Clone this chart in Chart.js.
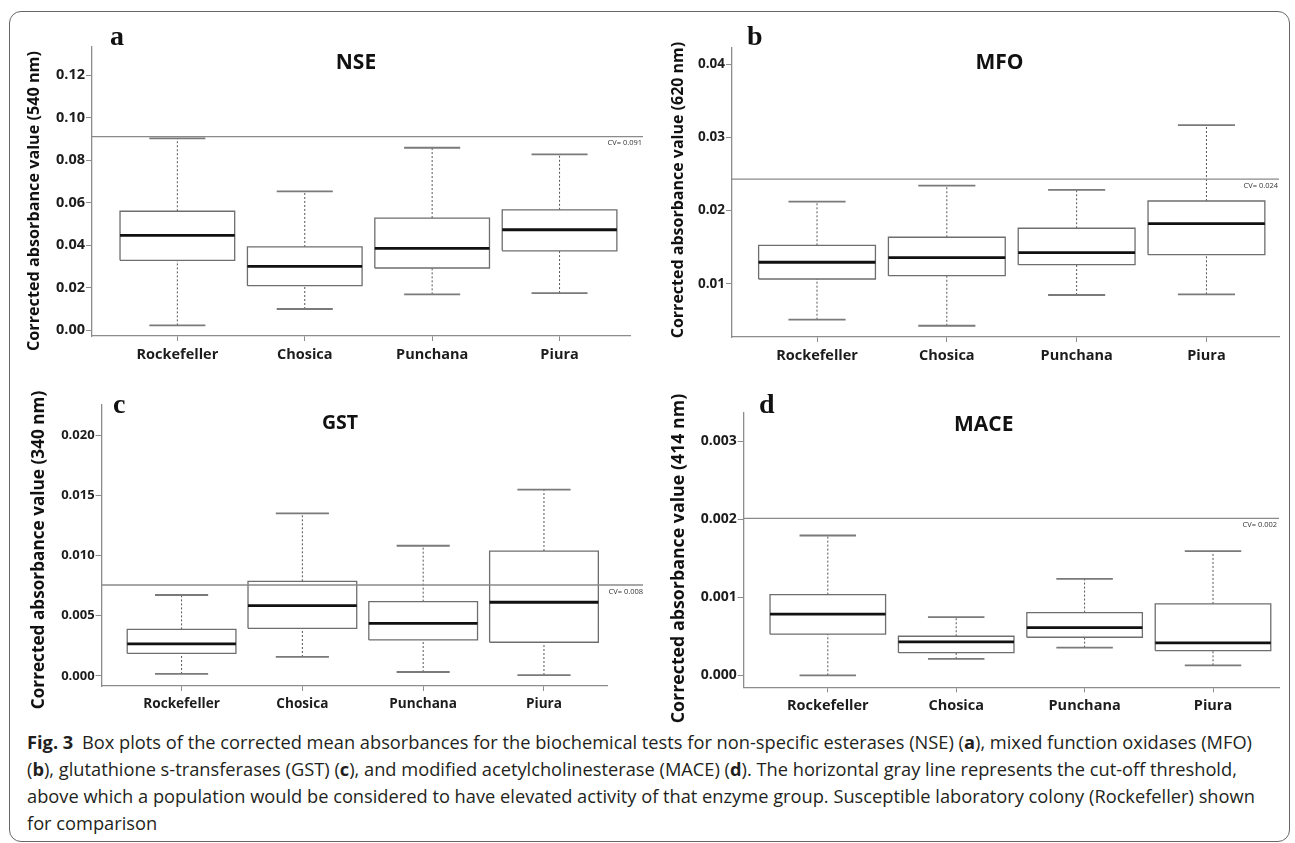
<!DOCTYPE html>
<html>
<head>
<meta charset="utf-8">
<script src="https://cdn.jsdelivr.net/npm/chart.js@4.4.1/dist/chart.umd.min.js"></script>
<style>
  html, body { margin: 0; padding: 0; background: #fff; }
  body { width: 1295px; height: 843px; position: relative; overflow: hidden; }
  #frame { position: absolute; left: 9px; top: 11px; width: 1281px; height: 831px;
           border: 1.5px solid #666; border-radius: 12px; box-sizing: border-box; }
  canvas { position: absolute; }
  #caption { position: absolute; left: 27px; top: 728px; font-family: 'Open Sans', sans-serif;
             font-size: 15.5px; line-height: 27px; color: #231f20; white-space: nowrap; }
  #caption span { display: block; }
  #caption span:first-child { display: inline-block; }
  #caption .fig { font-weight: bold; margin-right: 4px; }
</style>
</head>
<body>
<div id="frame"></div>
<canvas id="pa" width="640" height="365" style="left:10px;top:12px"></canvas>
<canvas id="pb" width="638" height="365" style="left:650px;top:12px"></canvas>
<canvas id="pc" width="640" height="345" style="left:10px;top:380px"></canvas>
<canvas id="pd" width="638" height="345" style="left:650px;top:380px"></canvas>
<div id="caption"><span id="line1"><b class="fig">Fig. 3</b> Box plots of the corrected mean absorbances for the biochemical tests for non-specific esterases (NSE) (<b>a</b>), mixed function oxidases (MFO)</span><span>(<b>b</b>), glutathione s-transferases (GST) (<b>c</b>), and modified acetylcholinesterase (MACE) (<b>d</b>). The horizontal gray line represents the cut-off threshold,</span><span>above which a population would be considered to have elevated activity of that enzyme group. Susceptible laboratory colony (Rockefeller) shown</span><span>for comparison</span></div>
<script>
const populations = ['Rockefeller', 'Chosica', 'Punchana', 'Piura'];

// a: non-specific esterases
const nseMin = [0.0022, 0.0099, 0.0168, 0.0174];
const nseQ1 = [0.0328, 0.0209, 0.0292, 0.0373];
const nseMedian = [0.0446, 0.0300, 0.0384, 0.0472];
const nseQ3 = [0.0559, 0.0391, 0.0527, 0.0566];
const nseMax = [0.0902, 0.0653, 0.0858, 0.0827];
const nseCutOff = 0.091;
const nseTicks = ['0.00', '0.02', '0.04', '0.06', '0.08', '0.10', '0.12'];

// b: mixed function oxidases
const mfoMin = [0.00508, 0.00425, 0.00845, 0.00855];
const mfoQ1 = [0.01064, 0.01109, 0.0126, 0.01397];
const mfoMedian = [0.01293, 0.01356, 0.01424, 0.01821];
const mfoQ3 = [0.01525, 0.01635, 0.01758, 0.02131];
const mfoMax = [0.02122, 0.02341, 0.02282, 0.03167];
const mfoCutOff = 0.0243;
const mfoTicks = ['0.01', '0.02', '0.03', '0.04'];

// c: glutathione s-transferases
const gstMin = [0.00017, 0.00158, 0.00033, 0.00008];
const gstQ1 = [0.00188, 0.00396, 0.00299, 0.0028];
const gstMedian = [0.00266, 0.00584, 0.00437, 0.00612];
const gstQ3 = [0.00387, 0.00786, 0.00617, 0.01037];
const gstMax = [0.00672, 0.0135, 0.01081, 0.01546];
const gstCutOff = 0.00755;
const gstTicks = ['0.000', '0.005', '0.010', '0.015', '0.020'];

// d: modified acetylcholinesterase
const maceMin = [0.0, 0.000209, 0.000354, 0.000128];
const maceQ1 = [0.000526, 0.00029, 0.000487, 0.000316];
const maceMedian = [0.000782, 0.000427, 0.00061, 0.000414];
const maceQ3 = [0.001033, 0.0005, 0.000803, 0.000914];
const maceMax = [0.00179, 0.000744, 0.001235, 0.00159];
const maceCutOff = 0.00201;
const maceTicks = ['0.000', '0.001', '0.002', '0.003'];

const cutOffLabels = ['CV= 0.091', 'CV= 0.024', 'CV= 0.008', 'CV= 0.002'];

const BOX = 0.45, CAP = 0.22;
const AXIS = '#8c8c8c', INK = '#1c1c1c', SANS = '"Open Sans", sans-serif';

// caption: fit the first line to the width it has in the figure
(function fitCaption() {
  const cap = document.getElementById('caption');
  const w = document.getElementById('line1').getBoundingClientRect().width;
  cap.style.fontSize = (15.5 * 1226 / w).toFixed(2) + 'px';
})();

// box, whiskers, caps and median as line segments split by nulls
function boxDatasets(mins, q1s, meds, q3s, maxs) {
  const gap = { x: null, y: null };
  const whisk = [], caps = [], boxes = [], medians = [];
  populations.forEach((p, i) => {
    whisk.push({ x: i, y: q3s[i] }, { x: i, y: maxs[i] }, gap, { x: i, y: mins[i] }, { x: i, y: q1s[i] }, gap);
    caps.push({ x: i - CAP, y: maxs[i] }, { x: i + CAP, y: maxs[i] }, gap,
              { x: i - CAP, y: mins[i] }, { x: i + CAP, y: mins[i] }, gap);
    boxes.push({ x: i - BOX, y: q1s[i] }, { x: i + BOX, y: q1s[i] }, { x: i + BOX, y: q3s[i] },
               { x: i - BOX, y: q3s[i] }, { x: i - BOX, y: q1s[i] }, gap);
    medians.push({ x: i - BOX, y: meds[i] }, { x: i + BOX, y: meds[i] }, gap);
  });
  const base = { pointRadius: 0, spanGaps: false, fill: false, tension: 0, borderJoinStyle: 'miter' };
  return [
    { ...base, label: 'median', data: medians, borderColor: '#111', borderWidth: 2.8 },
    { ...base, label: 'box', data: boxes, borderColor: '#6e6e6e', borderWidth: 1.3 },
    { ...base, label: 'cap', data: caps, borderColor: '#7a7a7a', borderWidth: 1.8 },
    { ...base, label: 'whisker', data: whisk, borderColor: '#555', borderWidth: 1, borderDash: [2, 2] }
  ];
}

const decor = {
  id: 'decor',
  afterDraw(chart, args, o) {
    const { ctx, chartArea, scales } = chart;
    const ox = o.origin[0], oy = o.origin[1];
    ctx.save();
    // cut-off line and its label
    const yc = scales.y.getPixelForValue(o.cut);
    ctx.strokeStyle = '#8a8a8a';
    ctx.lineWidth = 1.3;
    ctx.beginPath();
    ctx.moveTo(chartArea.left, yc);
    ctx.lineTo(o.cutEnd - ox, yc);
    ctx.stroke();
    ctx.fillStyle = '#333';
    ctx.font = '7.5px ' + SANS;
    ctx.textAlign = 'right';
    ctx.textBaseline = 'middle';
    ctx.fillText(o.cutLabel, o.cutLabelX - ox, yc + 6.5);
    // panel letter
    ctx.fillStyle = '#111';
    ctx.font = 'bold 28px "Liberation Serif", serif';
    ctx.textAlign = 'left';
    ctx.textBaseline = 'alphabetic';
    ctx.fillText(o.letter, o.letterPos[0] - ox, o.letterPos[1] - oy);
    // panel title
    ctx.font = 'bold ' + o.titleSize + 'px ' + SANS;
    ctx.textAlign = 'center';
    ctx.textBaseline = 'middle';
    ctx.fillText(o.title, o.titlePos[0] - ox, o.titlePos[1] - oy);
    // y axis title
    ctx.translate(o.yTitlePos[0] - ox, o.yTitlePos[1] - oy);
    ctx.rotate(-Math.PI / 2);
    ctx.font = 'bold ' + o.yTitleSize + 'px ' + SANS;
    ctx.fillText(o.yTitle, 0, 0);
    ctx.restore();
  }
};

const panels = [
  { canvas: 'pa', origin: [10, 12, 640, 365], area: [92, 47, 630, 336],
    x: [-0.67, 3.553], y: [-0.0028, 0.1332], ticks: nseTicks,
    stats: [nseMin, nseQ1, nseMedian, nseQ3, nseMax], cut: nseCutOff, cutLabel: cutOffLabels[0],
    cutEnd: 643, cutLabelX: 642, letter: 'a', letterPos: [110, 45], title: 'NSE', titleSize: 21,
    titlePos: [356, 63.5], yTitle: 'Corrected absorbance value (540 nm)', yTitleSize: 16.2, yTitlePos: [34, 201],
    yTickSize: 14.5, xTickSize: 14.5 },
  { canvas: 'pb', origin: [650, 12, 638, 365], area: [732, 48, 1279, 337],
    x: [-0.655, 3.559], y: [0.00271, 0.04223], ticks: mfoTicks,
    stats: [mfoMin, mfoQ1, mfoMedian, mfoQ3, mfoMax], cut: mfoCutOff, cutLabel: cutOffLabels[1],
    cutEnd: 1279, cutLabelX: 1278, letter: 'b', letterPos: [747, 45], title: 'MFO', titleSize: 21,
    titlePos: [999.5, 63.5], yTitle: 'Corrected absorbance value (620 nm)', yTitleSize: 16, yTitlePos: [678, 190],
    yTickSize: 13.5, xTickSize: 14.5 },
  { canvas: 'pc', origin: [10, 380, 640, 345], area: [101.6, 405, 607.4, 686],
    x: [-0.662, 3.525], y: [-0.00083, 0.02249], ticks: gstTicks,
    stats: [gstMin, gstQ1, gstMedian, gstQ3, gstMax], cut: gstCutOff, cutLabel: cutOffLabels[2],
    cutEnd: 643, cutLabelX: 643, letter: 'c', letterPos: [113, 413], title: 'GST', titleSize: 19.5,
    titlePos: [340, 423.3], yTitle: 'Corrected absorbance value (340 nm)', yTitleSize: 17.2, yTitlePos: [39, 550],
    yTickSize: 13, xTickSize: 13.6 },
  { canvas: 'pd', origin: [650, 380, 638, 345], area: [743.7, 412.3, 1279, 687.3],
    x: [-0.655, 3.514], y: [-0.000154, 0.003368], ticks: maceTicks,
    stats: [maceMin, maceQ1, maceMedian, maceQ3, maceMax], cut: maceCutOff, cutLabel: cutOffLabels[3],
    cutEnd: 1279, cutLabelX: 1277, letter: 'd', letterPos: [759, 413], title: 'MACE', titleSize: 21,
    titlePos: [983.7, 425], yTitle: 'Corrected absorbance value (414 nm)', yTitleSize: 17.8, yTitlePos: [679, 558.5],
    yTickSize: 14, xTickSize: 14.5 }
];

panels.forEach(p => {
  const [cl, ct, cw, ch] = p.origin;
  const [al, at, ar, ab] = p.area;
  new Chart(document.getElementById(p.canvas), {
    type: 'line',
    data: { datasets: boxDatasets(...p.stats) },
    plugins: [decor],
    options: {
      responsive: false,
      animation: false,
      events: [],
      layout: { padding: { left: 0, top: at - ct, right: cl + cw - ar, bottom: 0 } },
      plugins: {
        legend: { display: false },
        tooltip: { enabled: false },
        decor: { origin: [cl, ct], cut: p.cut, cutLabel: p.cutLabel, cutEnd: p.cutEnd, cutLabelX: p.cutLabelX,
                 letter: p.letter, letterPos: p.letterPos, title: p.title, titleSize: p.titleSize,
                 titlePos: p.titlePos, yTitle: p.yTitle, yTitleSize: p.yTitleSize, yTitlePos: p.yTitlePos }
      },
      scales: {
        x: {
          type: 'linear', min: p.x[0], max: p.x[1],
          afterBuildTicks: s => { s.ticks = populations.map((_, i) => ({ value: i })); },
          afterFit: s => { s.height = ct + ch - ab; },
          ticks: { autoSkip: false, maxRotation: 0, padding: 5, color: INK,
                   font: { family: SANS, weight: 'bold', size: p.xTickSize },
                   callback: (v, i) => populations[i] },
          grid: { drawOnChartArea: false, tickLength: 5, color: AXIS },
          border: { color: AXIS, width: 1.3 }
        },
        y: {
          type: 'linear', min: p.y[0], max: p.y[1],
          afterBuildTicks: s => { s.ticks = p.ticks.map(t => ({ value: parseFloat(t) })); },
          afterFit: s => { s.width = al - cl; },
          ticks: { autoSkip: false, padding: 1, color: INK,
                   font: { family: SANS, weight: 'bold', size: p.yTickSize },
                   callback: (v, i) => p.ticks[i] },
          grid: { drawOnChartArea: false, tickLength: 6, color: AXIS },
          border: { color: AXIS, width: 1.3 }
        }
      }
    }
  });
});
</script>
</body>
</html>
